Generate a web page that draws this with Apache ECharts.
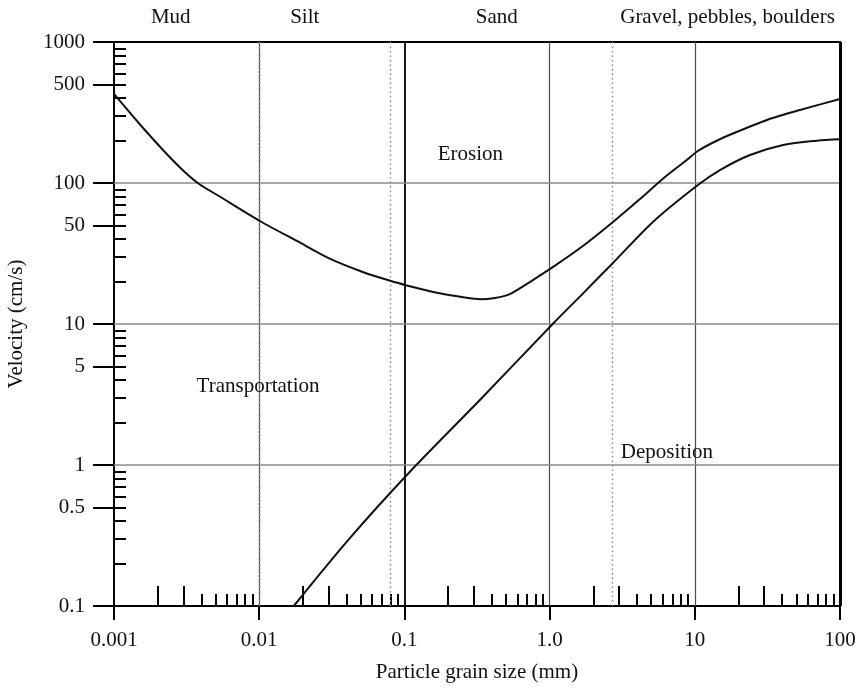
<!DOCTYPE html>
<html>
<head>
<meta charset="utf-8">
<script src="https://cdn.jsdelivr.net/npm/echarts@6/dist/echarts.min.js"></script>
<style>
  html, body { margin: 0; padding: 0; background: #fff; }
  #chart { width: 859px; height: 688px; }
</style>
</head>
<body>
<div id="chart"></div>
<script>
// Hjulström diagram: flow velocity needed to erode / deposit grains of a given size.

// Erosion threshold curve: [grain size (mm), velocity (cm/s)]
const erosionCurve = [
  [0.001, 428], [0.0015, 262], [0.00224, 166], [0.00307, 119.7], [0.0039, 97.6],
  [0.00535, 80.2], [0.0104, 52.9], [0.0182, 38.8], [0.0306, 29.1], [0.0517, 23.4],
  [0.0769, 20.5], [0.104, 18.75], [0.175, 16.5], [0.261, 15.4], [0.331, 15.0],
  [0.42, 15.3], [0.532, 16.3], [0.767, 20.5], [1.07, 25.6], [1.695, 35.7],
  [2.73, 52.9], [4.19, 77.0], [6.23, 110.3], [8.8, 145.6], [10.5, 168.7],
  [13.8, 197], [18.3, 224.4], [31.4, 280], [53, 329.5], [100, 394]
];

// Deposition (settling) curve
const depositionCurve = [
  [0.0173, 0.1], [0.0421, 0.303], [0.112, 0.921], [0.331, 2.89], [1.07, 10.2],
  [1.70, 16.5], [2.74, 27.2], [5.17, 53.2], [10.5, 96.8], [14.9, 123.6],
  [24, 158], [40.6, 186], [69.1, 199.5], [100, 204]
];

// Size classes along the top edge
const sizeClasses = ['Mud', 'Silt', 'Sand', 'Gravel, pebbles, boulders'];
const sizeClassLabelAt = [0.00246, 0.0206, 0.433, 16.8];
const sizeClassBounds = [0.0053, 0.077, 2.7];

// Region names inside the plot
const regionNames = ['Erosion', 'Transportation', 'Deposition'];
const regionLabelAt = [[0.2845, 160.6], [0.00982, 3.59], [6.43, 1.236]];

// Axis ticks and labels
const xMajorValues = [0.001, 0.01, 0.1, 1, 10, 100];
const xMajorLabels = ['0.001', '0.01', '0.1', '1.0', '10', '100'];
const yLabelValues = [0.1, 0.5, 1, 5, 10, 50, 100, 500, 1000];
const yLabelTexts = ['0.1', '0.5', '1', '5', '10', '50', '100', '500', '1000'];
const xDecades = [0.001, 0.01, 0.1, 1, 10];
const yDecades = [0.1, 1, 10, 100];
const tallMultipliers = [2, 3];
const shortMultipliers = [4, 5, 6, 7, 8, 9];
const allMultipliers = [2, 3, 4, 5, 6, 7, 8, 9];

// Grid lines
const xGreyLines = [0.01, 1, 10];
const xBlackLines = [0.1];
const yGreyLines = [1, 10, 100];

function multiples(decades, mults) {
  const out = [];
  decades.forEach(d => mults.forEach(m => out.push(+(d * m).toPrecision(6))));
  return out;
}
function nearestIndex(values, v) {
  let best = 0, bestD = Infinity;
  values.forEach((c, i) => {
    const d = Math.abs(Math.log10(c) - Math.log10(v));
    if (d < bestD) { bestD = d; best = i; }
  });
  return best;
}

const FONT = '"Liberation Serif", "DejaVu Serif", serif';
const INK = '#111';
const TICK_STYLE = { color: '#000', width: 2 };

const xRange = { type: 'log', logBase: 10, min: 0.001, max: 100 };
const yRange = { type: 'log', logBase: 10, min: 0.1, max: 1000 };

function tickOnlyAxis(base, position, values, length, inside) {
  return Object.assign({}, base, {
    position: position,
    axisLine: { show: false, onZero: false },
    axisTick: { show: true, inside: inside, length: length, lineStyle: TICK_STYLE, customValues: values },
    axisLabel: { show: false },
    splitLine: { show: false },
    minorTick: { show: false }
  });
}

const markLineData = [];
xGreyLines.forEach(v => markLineData.push({ xAxis: v, lineStyle: { color: '#4a4a4a', width: 1.2, type: 'solid' } }));
xBlackLines.forEach(v => markLineData.push({ xAxis: v, lineStyle: { color: '#000', width: 1.8, type: 'solid' } }));
sizeClassBounds.forEach(v => markLineData.push({ xAxis: v, lineStyle: { color: '#8c8c8c', width: 1.4, type: [1.5, 3] } }));
yGreyLines.forEach(v => markLineData.push({ yAxis: v, lineStyle: { color: '#8a8a8a', width: 1.5, type: 'solid' } }));
markLineData.push({ xAxis: 100, lineStyle: { color: '#000', width: 3, type: 'solid' } });

const chart = echarts.init(document.getElementById('chart'), null, { renderer: 'canvas' });

chart.setOption({
  animation: false,
  backgroundColor: '#fff',
  grid: {
    left: 114, right: 19, top: 42, bottom: 82,
    show: true, borderColor: '#000', borderWidth: 2,
    outerBoundsMode: 'none', containLabel: false
  },
  xAxis: [
    Object.assign({}, xRange, {
      position: 'bottom',
      axisLine: { show: true, onZero: false, lineStyle: { color: '#000', width: 2 } },
      axisTick: { show: true, inside: false, length: 14, lineStyle: TICK_STYLE, customValues: xMajorValues },
      axisLabel: {
        customValues: xMajorValues, margin: 24,
        fontFamily: FONT, fontSize: 21, color: INK,
        formatter: v => xMajorLabels[nearestIndex(xMajorValues, v)]
      },
      splitLine: { show: false },
      minorTick: { show: false },
      name: 'Particle grain size (mm)',
      nameLocation: 'middle', nameGap: 56, nameMoveOverlap: false,
      nameTextStyle: { fontFamily: FONT, fontSize: 21, color: INK }
    }),
    tickOnlyAxis(xRange, 'bottom', multiples(xDecades, tallMultipliers), 20, true),
    tickOnlyAxis(xRange, 'bottom', multiples(xDecades, shortMultipliers), 12, true),
    Object.assign({}, xRange, {
      position: 'top',
      axisLine: { show: false, onZero: false },
      axisTick: { show: false },
      axisLabel: {
        customValues: sizeClassLabelAt, margin: 14,
        fontFamily: FONT, fontSize: 21, color: INK,
        formatter: v => sizeClasses[nearestIndex(sizeClassLabelAt, v)]
      },
      splitLine: { show: false },
      minorTick: { show: false }
    })
  ],
  yAxis: [
    Object.assign({}, yRange, {
      position: 'left',
      axisLine: { show: true, onZero: false, lineStyle: { color: '#000', width: 2 } },
      axisTick: { show: true, inside: false, length: 21, lineStyle: TICK_STYLE, customValues: yLabelValues },
      axisLabel: {
        customValues: yLabelValues, margin: 29,
        fontFamily: FONT, fontSize: 21, color: INK,
        formatter: v => yLabelTexts[nearestIndex(yLabelValues, v)]
      },
      splitLine: { show: false },
      minorTick: { show: false },
      name: 'Velocity (cm/s)',
      nameLocation: 'middle', nameGap: 87, nameMoveOverlap: false,
      nameTextStyle: { fontFamily: FONT, fontSize: 21, color: INK }
    }),
    tickOnlyAxis(yRange, 'left', multiples(yDecades, allMultipliers), 12, true)
  ],
  series: [
    {
      name: 'Erosion', type: 'line', xAxisIndex: 0, yAxisIndex: 0,
      data: erosionCurve, showSymbol: false, smooth: 0.25,
      lineStyle: { color: INK, width: 2 }, z: 5,
      markLine: {
        silent: true, symbol: ['none', 'none'], label: { show: false },
        animation: false, data: markLineData, z: 2
      }
    },
    {
      name: 'Deposition', type: 'line', xAxisIndex: 0, yAxisIndex: 0,
      data: depositionCurve, showSymbol: false, smooth: 0.3,
      lineStyle: { color: INK, width: 2 }, z: 5
    },
    {
      name: 'Regions', type: 'scatter', xAxisIndex: 0, yAxisIndex: 0,
      symbolSize: 1, silent: true, z: 6,
      itemStyle: { color: 'rgba(0,0,0,0)', opacity: 1 },
      data: regionLabelAt.map((p, i) => ({ value: p, name: regionNames[i] })),
      label: {
        show: true, position: 'inside', formatter: p => p.name,
        fontFamily: FONT, fontSize: 21, color: INK, opacity: 1
      }
    }
  ]
});
</script>
</body>
</html>
